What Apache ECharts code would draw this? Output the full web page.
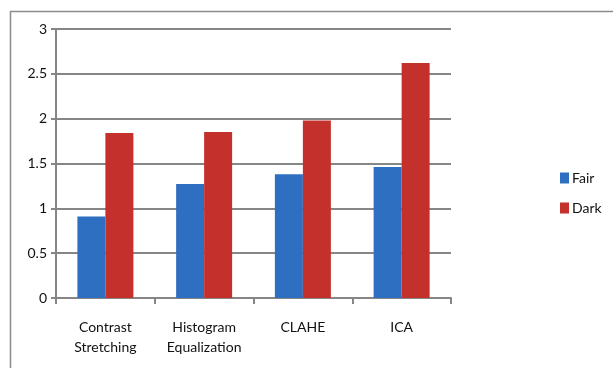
<!DOCTYPE html>
<html>
<head>
<meta charset="utf-8">
<script src="https://cdn.jsdelivr.net/npm/echarts@6/dist/echarts.min.js"></script>
<style>
  html, body { margin: 0; padding: 0; background: #fff; }
  #chart { width: 613px; height: 368px; }
</style>
</head>
<body>
<div id="chart"></div>
<script>
// Methods compared and their scores for fair and dark samples
const categories = ['Contrast\nStretching', 'Histogram\nEqualization', 'CLAHE', 'ICA'];
const fairValues = [0.91, 1.27, 1.38, 1.46];
const darkValues = [1.84, 1.85, 1.98, 2.62];
const seriesNames = ['Fair', 'Dark'];

const FONT = 'Lato, "Open Sans", sans-serif';
const GRID_COLOR = '#868686';

const chart = echarts.init(document.getElementById('chart'), null, { renderer: 'canvas' });

chart.setOption({
  animation: false,
  backgroundColor: '#fff',
  textStyle: { fontFamily: FONT },
  graphic: [{
    type: 'rect',
    shape: { x: 10.5, y: 11.5, width: 800, height: 600 },
    style: { fill: 'none', stroke: '#8c8c8c', lineWidth: 1.5 },
    silent: true
  }],
  grid: { left: 56, right: 162, top: 29, bottom: 70, outerBoundsMode: 'none', containLabel: false },
  legend: {
    data: seriesNames,
    orient: 'vertical',
    left: 555,
    top: 166,
    itemWidth: 9,
    itemHeight: 11,
    itemGap: 16,
    icon: 'rect',
    textStyle: { fontFamily: FONT, fontSize: 14, color: '#111', padding: [0, 0, 0, -2] }
  },
  xAxis: {
    type: 'category',
    data: categories,
    axisLine: { lineStyle: { color: GRID_COLOR, width: 2 } },
    axisTick: { show: true, length: 6, alignWithLabel: false, lineStyle: { color: GRID_COLOR, width: 2 } },
    axisLabel: { fontFamily: FONT, fontSize: 14, color: '#111', margin: 19, lineHeight: 20 }
  },
  yAxis: {
    type: 'value',
    min: 0,
    max: 3,
    interval: 0.5,
    axisLine: { show: true, lineStyle: { color: GRID_COLOR, width: 2 } },
    axisTick: { show: true, length: 5, lineStyle: { color: GRID_COLOR, width: 2 } },
    splitLine: { lineStyle: { color: GRID_COLOR, width: 2 } },
    axisLabel: { fontFamily: FONT, fontSize: 14, color: '#111', margin: 9 }
  },
  series: [
    {
      name: seriesNames[0],
      type: 'bar',
      data: fairValues,
      barWidth: 28,
      barGap: '0%',
      itemStyle: { color: '#2E6FC1' }
    },
    {
      name: seriesNames[1],
      type: 'bar',
      data: darkValues,
      barWidth: 28,
      barGap: '0%',
      itemStyle: { color: '#C4302C' }
    }
  ]
});
</script>
</body>
</html>
